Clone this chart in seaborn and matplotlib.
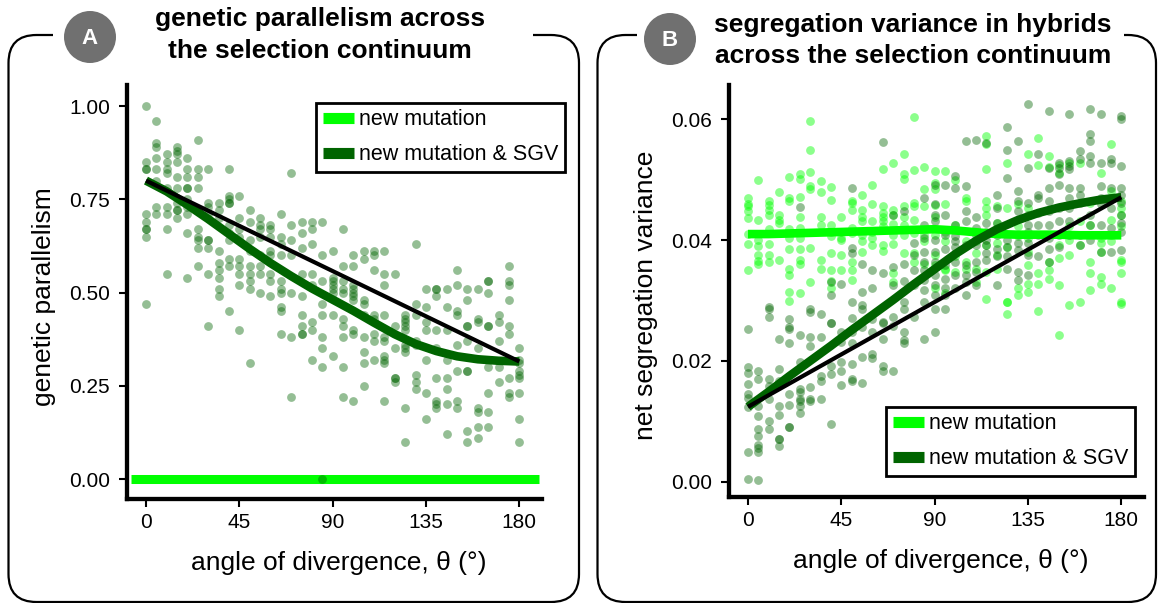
import numpy as np
import pandas as pd
import seaborn as sns
import matplotlib.pyplot as plt
from matplotlib.lines import Line2D
from matplotlib.path import Path
from matplotlib.patches import PathPatch, Circle

sns.set_style("ticks")
plt.rcParams['font.family'] = ['Liberation Sans', 'DejaVu Sans']
plt.rcParams['text.color'] = 'black'
plt.rcParams['axes.labelcolor'] = 'black'

# angle of divergence, one column of replicate sims every 5 degrees
angles = [0, 5, 10, 15, 20, 25, 30, 35, 40, 45, 50, 55, 60, 65, 70, 75, 80, 85, 90,
          95, 100, 105, 110, 115, 120, 125, 130, 135, 140, 145, 150, 155, 160, 165, 170, 175, 180]

# panel A: genetic parallelism (x100), new mutation & SGV
par_sgv = [
    [100, 85, 83, 83, 71, 69, 67, 67, 65, 47], [96, 90, 89, 86, 83, 80, 73, 71],
    [87, 85, 83, 82, 78, 73, 71, 67, 55], [89, 88, 87, 85, 81, 78, 74, 72, 72, 70],
    [86, 83, 81, 78, 78, 75, 73, 71, 66, 54], [91, 83, 81, 78, 67, 65, 64, 62, 57],
    [83, 74, 73, 71, 64, 64, 62, 55, 41], [74, 72, 70, 61, 58, 56, 54, 51, 49],
    [83, 76, 75, 74, 74, 68, 66, 64, 59, 57, 45], [76, 70, 67, 65, 59, 57, 55, 52, 40],
    [72, 69, 64, 61, 57, 55, 53, 51, 31], [70, 68, 67, 65, 60, 57, 55, 50],
    [68, 67, 65, 61, 60, 55, 53, 49], [71, 65, 63, 60, 53, 51, 50, 46, 45, 39],
    [82, 68, 64, 60, 50, 38, 22], [69, 66, 62, 55, 49, 44, 41, 39, 39],
    [69, 67, 63, 55, 52, 42, 40, 32], [69, 60, 53, 47, 44, 38, 35, 30, 0],
    [61, 54, 53, 52, 51, 50, 44, 33], [67, 57, 53, 51, 50, 43, 41, 38, 30, 22],
    [60, 57, 52, 51, 50, 49, 48, 40, 39, 21], [61, 59, 48, 47, 44, 38, 34, 31, 25],
    [61, 60, 56, 44, 43, 39, 37, 32], [61, 55, 52, 44, 38, 37, 33, 32, 31, 21],
    [55, 41, 35, 27, 27, 26], [44, 43, 42, 41, 40, 36, 35, 34, 19, 10],
    [63, 47, 44, 37, 36, 28, 26, 24], [51, 46, 42, 40, 32, 23, 16],
    [51, 51, 49, 40, 35, 27, 21, 20, 19], [51, 46, 40, 32, 27, 24, 20, 12],
    [56, 52, 45, 44, 36, 29, 21, 19], [51, 48, 41, 41, 37, 29, 29, 13, 10],
    [51, 43, 42, 35, 19, 18, 14, 11], [53, 53, 50, 41, 41, 30, 23, 18, 14],
    [44, 42, 37, 30, 26], [57, 53, 52, 48, 41, 39, 27, 23, 22],
    [35, 32, 31, 29, 28, 27, 23, 16, 10],
]
par_nm_level = 0.0

# panel B: net segregation variance (x10000)
seg_nm = [
    [470, 460, 457, 449, 436, 410, 393, 350], [500, 434, 400, 390, 376, 366, 360],
    [464, 458, 450, 442, 418, 393, 376, 364], [480, 442, 434, 428, 367],
    [504, 470, 464, 418, 403, 385, 353, 342, 314, 299], [509, 501, 471, 438, 420, 403, 386, 367, 361, 313],
    [597, 550, 512, 490, 484, 387, 330], [498, 480, 439, 425, 367, 353],
    [488, 467, 425, 414, 406, 378, 350, 332, 320], [439, 414, 403, 400, 375, 350],
    [464, 461, 450, 420, 411, 364, 350, 334], [474, 450, 439, 431, 409, 398, 381],
    [492, 459, 431, 414, 403, 392], [517, 456, 445, 438, 431, 423, 392, 382],
    [527, 450, 442, 426, 409, 393, 345, 331], [542, 509, 501, 456, 439, 425, 409, 378],
    [603, 516, 461, 456, 434, 411, 378, 364], [521, 484, 456, 409, 398, 361],
    [514, 495, 484, 458, 439, 409, 375, 359, 320], [514, 459, 414, 398, 353, 350, 312],
    [500, 425, 373, 348], [470, 464, 398, 364, 353], [398, 378, 353, 331],
    [573, 559, 518, 464, 453, 442, 392, 348, 303], [456, 428, 411, 395, 375, 353],
    [527, 453, 389, 298, 297, 278], [459, 423, 406, 320, 309],
    [542, 453, 403, 381, 359, 328, 314], [569, 524, 345, 327, 282],
    [540, 521, 364, 350, 336], [525, 511, 392, 370, 325, 243], [528, 423, 400, 375, 292],
    [528, 431, 392, 298], [461, 425, 364, 345, 317], [511, 403, 395, 381, 339, 328],
    [559, 481, 434, 409, 398, 320], [464, 453, 442, 423, 367, 364, 345, 298, 295],
]
seg_sgv = [
    [253, 190, 180, 161, 145, 139, 124, 50, 4], [184, 170, 125, 109, 87, 75, 61, 56, 50, 3],
    [290, 286, 273, 170, 158, 137, 101, 88], [236, 186, 167, 125, 110, 70, 70, 59],
    [270, 256, 253, 230, 145, 127, 91, 91], [454, 243, 199, 153, 148, 137, 134, 125, 114],
    [286, 281, 239, 225, 156, 137, 134], [278, 239, 175, 167, 137],
    [331, 309, 262, 262, 192, 178, 96], [328, 248, 232, 198, 184, 160],
    [487, 387, 379, 297, 271, 248, 230, 195, 170, 167], [361, 314, 292, 286, 256, 206, 164],
    [350, 320, 270, 248, 212, 204], [563, 345, 264, 262, 237, 192, 184],
    [441, 356, 325, 273, 258, 184], [448, 361, 332, 298, 286, 248, 234, 230],
    [395, 375, 350, 325, 273], [470, 425, 403, 380, 364, 350, 334, 317, 298, 236],
    [492, 459, 442, 431, 400, 381, 364, 342, 325, 309, 286, 248],
    [492, 442, 409, 386, 359, 336, 320, 309, 286], [506, 487, 425, 406, 398, 389, 364, 342, 320],
    [564, 489, 448, 431, 392, 359, 342, 331, 309], [565, 439, 420, 409, 392, 364, 348, 325],
    [560, 428, 414, 400, 392, 378, 367], [475, 453, 428, 409, 386, 373, 325],
    [588, 550, 503, 400, 389, 373, 353], [564, 481, 464, 448, 395, 384, 348, 334],
    [626, 520, 461, 442, 425, 414, 395, 375, 342], [542, 475, 470, 445, 425, 409, 373],
    [613, 520, 487, 464, 448, 425, 403, 386, 364], [528, 520, 509, 492, 453, 431, 409, 389],
    [609, 531, 523, 517, 487, 470, 453, 431, 409], [548, 534, 487, 475, 461, 409, 392],
    [617, 575, 564, 540, 528, 442, 425, 400], [609, 528, 489, 470, 459, 425, 381],
    [534, 528, 487, 470, 453, 420, 381], [606, 601, 523, 487, 475, 461, 442, 428, 414, 384],
]

# smoothed fits
fit_x = [0, 10, 20, 30, 40, 50, 60, 70, 80, 90, 100, 110, 120, 130, 140, 150, 160, 170, 180]
par_sgv_fit = [0.800, 0.771, 0.735, 0.697, 0.657, 0.617, 0.579, 0.544, 0.511, 0.481,
               0.451, 0.419, 0.388, 0.362, 0.343, 0.329, 0.321, 0.317, 0.315]
seg_sgv_fit = [0.0124, 0.0149, 0.0175, 0.0200, 0.0225, 0.0251, 0.0276, 0.0301, 0.0327, 0.0352,
               0.0377, 0.0399, 0.0418, 0.0433, 0.0445, 0.0454, 0.0461, 0.0467, 0.0471]
seg_nm_fit = [0.0410, 0.0410, 0.0411, 0.0412, 0.0413, 0.0414, 0.0415, 0.0416, 0.0417, 0.0418,
              0.0416, 0.0413, 0.0410, 0.0409, 0.0409, 0.0409, 0.0408, 0.0408, 0.0408]


def to_long(cols, scale):
    rows = [(a, v / scale) for a, col in zip(angles, cols) for v in col]
    return pd.DataFrame(rows, columns=["angle", "value"])


df_par = to_long(par_sgv, 100)
df_seg_nm = to_long(seg_nm, 10000)
df_seg_sgv = to_long(seg_sgv, 10000)

BRIGHT = "#00ff00"
DARK = "#006400"
W, H = 1158, 603

fig = plt.figure(figsize=(W / 100, H / 100), dpi=100)


def px_axes(left, right, top, bottom):
    return fig.add_axes([left / W, (H - bottom) / H, (right - left) / W, (bottom - top) / H])


ax_a = px_axes(127.3, 541.5, 85, 499)
ax_b = px_axes(729.3, 1143.5, 85, 497)

# ---- panel A
ax_a.axhline(par_nm_level, xmin=0.01, xmax=0.995, color=BRIGHT, lw=6.5, zorder=1, solid_capstyle="butt")
sns.scatterplot(data=df_par, x="angle", y="value", ax=ax_a, color=DARK, alpha=0.42,
                s=40, linewidth=0, zorder=2)
sns.lineplot(x=fit_x, y=par_sgv_fit, ax=ax_a, color=DARK, lw=6.2, zorder=3,
             solid_capstyle="butt", solid_joinstyle="round")
sns.lineplot(x=[fit_x[0], fit_x[-1]], y=[par_sgv_fit[0], par_sgv_fit[-1]], ax=ax_a,
             color="black", lw=3, zorder=4, solid_capstyle="butt")
ax_a.set_ylim(-0.0536, 1.0563)
ax_a.set_yticks([0, 0.25, 0.5, 0.75, 1.0])
ax_a.set_yticklabels(["0.00", "0.25", "0.50", "0.75", "1.00"])
ax_a.set_ylabel("genetic parallelism")

# ---- panel B
sns.scatterplot(data=df_seg_nm, x="angle", y="value", ax=ax_b, color=BRIGHT, alpha=0.45,
                s=40, linewidth=0, zorder=2)
sns.scatterplot(data=df_seg_sgv, x="angle", y="value", ax=ax_b, color=DARK, alpha=0.42,
                s=40, linewidth=0, zorder=2)
sns.lineplot(x=fit_x, y=seg_nm_fit, ax=ax_b, color=BRIGHT, lw=6.2, zorder=3,
             solid_capstyle="butt", solid_joinstyle="round")
sns.lineplot(x=fit_x, y=seg_sgv_fit, ax=ax_b, color=DARK, lw=6.2, zorder=3,
             solid_capstyle="butt", solid_joinstyle="round")
sns.lineplot(x=[fit_x[0], fit_x[-1]], y=[seg_sgv_fit[0], seg_sgv_fit[-1]], ax=ax_b,
             color="black", lw=3, zorder=4, solid_capstyle="butt")
ax_b.set_ylim(-0.00253, 0.06568)
ax_b.set_yticks([0, 0.02, 0.04, 0.06])
ax_b.set_yticklabels(["0.00", "0.02", "0.04", "0.06"])
ax_b.set_ylabel("net segregation variance")

for ax in (ax_a, ax_b):
    ax.set_xlim(-9, 190.7)
    ax.set_xticks([0, 45, 90, 135, 180])
    ax.set_xlabel("angle of divergence, θ (°)", fontsize=19)
    ax.yaxis.label.set_fontsize(19)
    ax.yaxis.set_label_coords(-0.173, 0.49)
    ax.xaxis.set_label_coords(0.51, -0.1256)
    for s in ("top", "right"):
        ax.spines[s].set_visible(False)
    for s in ("left", "bottom"):
        ax.spines[s].set_linewidth(3.1)
        ax.spines[s].set_color("black")
    ax.tick_params(axis="both", direction="out", length=5.8, width=1.5, color="black",
                   labelsize=15, labelcolor="black")
    ax.tick_params(axis="y", pad=6.5)
    ax.tick_params(axis="x", pad=4.3)

# ---- decoration overlay in pixel units
ov = fig.add_axes([0, 0, 1, 1])
ov.set_xlim(0, W)
ov.set_ylim(H, 0)
ov.axis("off")


def rounded_box(x0, x1, y0, y1, gap_l, gap_r, r=28):
    verts = [(gap_l, y0), (x0 + r, y0), (x0, y0), (x0, y0 + r), (x0, y1 - r), (x0, y1), (x0 + r, y1),
             (x1 - r, y1), (x1, y1), (x1, y1 - r), (x1, y0 + r), (x1, y0), (x1 - r, y0), (gap_r, y0)]
    codes = [Path.MOVETO, Path.LINETO, Path.CURVE3, Path.CURVE3, Path.LINETO, Path.CURVE3, Path.CURVE3,
             Path.LINETO, Path.CURVE3, Path.CURVE3, Path.LINETO, Path.CURVE3, Path.CURVE3, Path.LINETO]
    ov.add_patch(PathPatch(Path(verts, codes), fill=False, lw=1.6, edgecolor="black", capstyle="butt"))


rounded_box(8.5, 579, 35, 602, 53, 533)
rounded_box(597.5, 1156, 35, 602, 637, 1124)

for (cx, cy), letter in [((90, 37), "A"), ((670, 39), "B")]:
    ov.add_patch(Circle((cx, cy), 26, color="#707070", lw=0))
    ov.text(cx, cy + 1, letter, color="white", fontsize=16, fontweight="bold", ha="center", va="center")

ov.text(320, 26, "genetic parallelism across", fontsize=19, fontweight="bold", ha="center", va="baseline")
ov.text(320, 58, "the selection continuum", fontsize=19, fontweight="bold", ha="center", va="baseline")
ov.text(913, 32, "segregation variance in hybrids", fontsize=19, fontweight="bold", ha="center", va="baseline")
ov.text(913, 63, "across the selection continuum", fontsize=19, fontweight="bold", ha="center", va="baseline")

handles = [Line2D([], [], color=BRIGHT, lw=8, solid_capstyle="butt"),
           Line2D([], [], color=DARK, lw=8, solid_capstyle="butt")]
labels = ["new mutation", "new mutation & SGV"]
for ax, anchor in ((ax_a, (565, 103)), (ax_b, (1135, 407))):
    leg = ax.legend(handles, labels, loc="upper right", bbox_to_anchor=anchor,
                    bbox_transform=ov.transData, fontsize=15.5, frameon=True, fancybox=False,
                    edgecolor="black", framealpha=1, borderpad=0.3, labelspacing=0.65,
                    handlelength=1.45, handletextpad=0.25, borderaxespad=0)
    leg.get_frame().set_linewidth(2)

fig.savefig("out.png", dpi=100)
